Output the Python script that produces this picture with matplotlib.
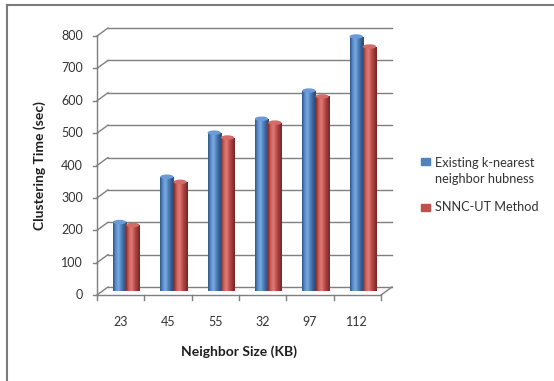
import numpy as np
import matplotlib.pyplot as plt
from matplotlib.patches import Ellipse, Rectangle
from matplotlib.lines import Line2D
from matplotlib.colors import LinearSegmentedColormap

plt.rcParams['font.family'] = ['Lato', 'DejaVu Sans']

# --- dane ---
sizes = ["23", "45", "55", "32", "97", "112"]
existing = [213, 353, 489, 532, 619, 786]
snnc = [204, 337, 474, 520, 601, 755]
names = ["Existing k-nearest\nneighbor hubness", "SNNC-UT Method"]
yticks = [0, 100, 200, 300, 400, 500, 600, 700, 800]

W, H = 554, 381
fig = plt.figure(figsize=(W / 100, H / 100), dpi=100)

# tylna ściana wykresu (piksele: x 108..392, y 28..287)
ax = fig.add_axes([108 / W, 1 - 287 / H, 284 / W, 259 / H])
ax.set_xlim(-0.5, 5.5)
ax.set_ylim(0, 800)
ax.axis('off')

# przeliczenie pikseli na jednostki danych
px_x = 6 / 284
px_y = 800 / 259
dxf, dyf = -11 * px_x, -8 * px_y      # przednia krawędź
dxm, dym = dxf / 2, dyf / 2           # środek głębokości (słupki)

grid_c = '#7f7f7f'
text_c = '#333333'

# siatka na tylnej ścianie + ukośne odcinki do osi
for v in yticks:
    ax.plot([-0.5, 5.5], [v, v], color=grid_c, lw=1, clip_on=False)
    ax.plot([-0.5 + dxf, -0.5], [v + dyf, v], color=grid_c, lw=1, clip_on=False)

# przednia oś Y i podłoga
ax.plot([-0.5 + dxf] * 2, [dyf, 800 + dyf], color=grid_c, lw=1, clip_on=False)
ax.plot([-0.5 + dxf, 5.5 + dxf], [dyf, dyf], color=grid_c, lw=1, clip_on=False)
ax.plot([5.5 + dxf, 5.5], [dyf, 0], color=grid_c, lw=1, clip_on=False)

for v in yticks:
    ax.plot([-0.5 + dxf - 4 * px_x, -0.5 + dxf], [v + dyf] * 2,
            color=grid_c, lw=1, clip_on=False)
    ax.text(-0.5 + dxf - 14 * px_x, v + dyf, str(v), ha='right', va='center',
            fontsize=9, color=text_c)

for i in range(7):
    ax.plot([i - 0.5 + dxf] * 2, [dyf, dyf - 5 * px_y], color=grid_c, lw=1,
            clip_on=False)
for i, s in enumerate(sizes):
    ax.text(i + dxf, dyf - 27 * px_y, s, ha='center', va='center',
            fontsize=9, color=text_c)

# --- słupki walcowe ---
blue_cm = LinearSegmentedColormap.from_list(
    'b', ['#2b5688', '#5d8fcc', '#7aa9e0', '#4f81bd', '#375f90', '#274b78'])
red_cm = LinearSegmentedColormap.from_list(
    'r', ['#8a2b28', '#cc625e', '#de7c78', '#c0504d', '#96393a', '#7a2522'])

grad = np.linspace(0, 1, 64).reshape(1, -1)
bw = 0.28


def cylinder(xc, val, cmap, top_c):
    x0, x1 = xc - bw / 2, xc + bw / 2
    y0, y1 = dym, val + dym
    rect = Rectangle((x0, y0), bw, y1 - y0, facecolor='none', edgecolor='none')
    ax.add_patch(rect)
    im = ax.imshow(grad, cmap=cmap, extent=[x0, x1, y0, y1], aspect='auto',
                   interpolation='bilinear', zorder=3)
    im.set_clip_path(rect)
    ax.add_patch(Ellipse((xc, y1), bw, 4.5 * px_y, facecolor=top_c,
                         edgecolor='none', zorder=4))


for i in range(len(sizes)):
    cylinder(i + dxm - 0.14, existing[i], blue_cm, '#6b9ad6')
    cylinder(i + dxm + 0.14, snnc[i], red_cm, '#d66a66')

ax.set_xlim(-0.5, 5.5)
ax.set_ylim(0, 800)

# --- opisy osi ---
fig.text(40 / W, 1 - 166 / H, "Clustering Time (sec)", rotation=90,
         ha='center', va='center', fontsize=10, fontweight='bold', color='#1f1f1f')
fig.text(239 / W, 1 - 352 / H, "Neighbor Size (KB)", ha='center', va='center',
         fontsize=10, fontweight='bold', color='#1f1f1f')

# --- legenda ---
fig.patches.append(Rectangle((421 / W, 1 - 165 / H), 9 / W, 7 / H,
                             transform=fig.transFigure, color='#4f81bd'))
fig.patches.append(Rectangle((421 / W, 1 - 211 / H), 9 / W, 7 / H,
                             transform=fig.transFigure, color='#c0504d'))
fig.text(435 / W, 1 - 171 / H, names[0], ha='left', va='center',
         fontsize=9.2, color=text_c, linespacing=1.45)
fig.text(435 / W, 1 - 207 / H, names[1], ha='left', va='center',
         fontsize=9.2, color=text_c)

# --- ramka ---
fig.add_artist(Line2D([7 / W, 1], [1 - 5 / H] * 2, color='#7a7a7a', lw=1.5))
fig.add_artist(Line2D([7 / W] * 2, [0, 1 - 5 / H], color='#7a7a7a', lw=1.5))

fig.savefig("out.png", dpi=100)
